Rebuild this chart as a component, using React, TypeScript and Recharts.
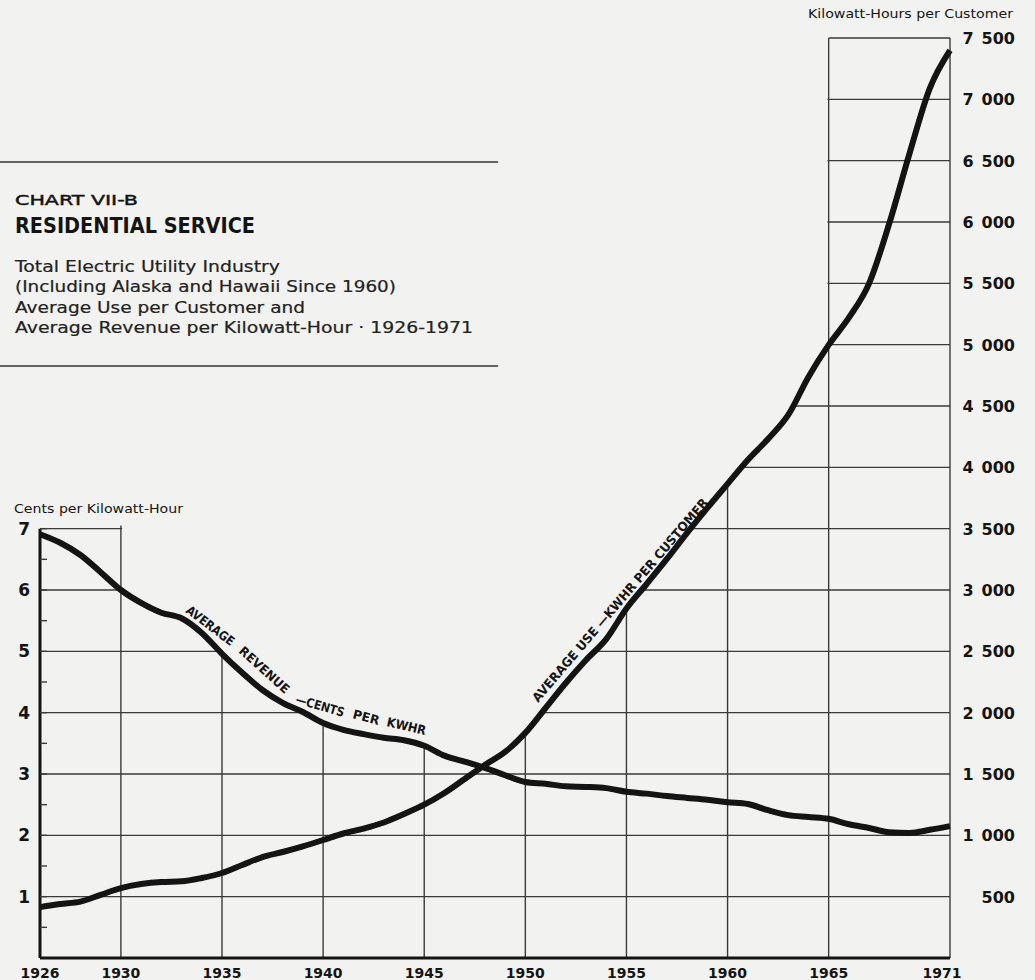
import React from 'react';
import { ComposedChart, Line, Area, XAxis, YAxis, CartesianGrid, ReferenceLine } from 'recharts';

// ---- data ----
const YEARS = [
  1926, 1927, 1928, 1929, 1930, 1931, 1932, 1933, 1934, 1935,
  1936, 1937, 1938, 1939, 1940, 1941, 1942, 1943, 1944, 1945,
  1946, 1947, 1948, 1949, 1950, 1951, 1952, 1953, 1954, 1955,
  1956, 1957, 1958, 1959, 1960, 1961, 1962, 1963, 1964, 1965,
  1966, 1967, 1968, 1969, 1970, 1971,
];

// average revenue, cents per kWh
const REVENUE_CENTS = [
  6.91, 6.77, 6.57, 6.29, 6.0, 5.79, 5.63, 5.54, 5.3, 4.96,
  4.65, 4.37, 4.16, 4.01, 3.83, 3.72, 3.65, 3.59, 3.55, 3.46,
  3.3, 3.2, 3.1, 2.98, 2.87, 2.84, 2.8, 2.79, 2.77, 2.71,
  2.68, 2.64, 2.61, 2.58, 2.54, 2.51, 2.41, 2.33, 2.3, 2.27,
  2.18, 2.12, 2.05, 2.04, 2.09, 2.15,
];

// average use, kWh per customer
const USE_KWH = [
  415, 440, 460, 515, 570, 603, 620, 625, 652, 693,
  758, 823, 864, 910, 962, 1015, 1055, 1105, 1174, 1250,
  1345, 1459, 1574, 1680, 1835, 2038, 2242, 2430, 2600, 2849,
  3049, 3253, 3465, 3669, 3865, 4060, 4231, 4427, 4737, 4998,
  5220, 5500, 5990, 6560, 7090, 7400,
];

const YEAR_TICKS = [1926, 1930, 1935, 1940, 1945, 1950, 1955, 1960, 1965, 1971];
const CENT_TICKS = [0.5, 1, 1.5, 2, 2.5, 3, 3.5, 4, 4.5, 5, 5.5, 6, 6.5, 7];
const KWH_TICKS = [500, 1000, 1500, 2000, 2500, 3000, 3500, 4000, 4500, 5000, 5500, 6000, 6500, 7000, 7500];

const KWH_PER_CENT = 500; // both scales share the grid: 1 cent = 500 kWh

const INK = '#141414';
const GRID = '#3a3a3a';
const PAPER = '#f2f2f0';
const NUM_FONT = '"DejaVu Sans", sans-serif';
const LABEL_FONT = '"DejaVu Sans Condensed", "DejaVu Sans", sans-serif';

// the grid is only drawn under the curves, except in the two framed end boxes,
// so a paper-coloured band covers it above the higher of the two lines
const LEFT_BOX_END = YEAR_TICKS[1];
const RIGHT_BOX_START = YEAR_TICKS[YEAR_TICKS.length - 2];
const CENT_MAX = CENT_TICKS[CENT_TICKS.length - 1];
const KWH_MAX = KWH_TICKS[KWH_TICKS.length - 1];
const envelope = (i: number) => Math.max(REVENUE_CENTS[i] * KWH_PER_CENT, USE_KWH[i]);
const iStart = YEARS.indexOf(LEFT_BOX_END);
const iEnd = YEARS.indexOf(RIGHT_BOX_START);
const leftBoxTop = CENT_MAX * KWH_PER_CENT + 25;
const gap = 0.06;

const rows = YEARS.map((year, i) => ({
  year,
  revenue: REVENUE_CENTS[i],
  use: USE_KWH[i],
  mask: year <= LEFT_BOX_END ? [leftBoxTop, KWH_MAX]
    : year < RIGHT_BOX_START ? [envelope(i), KWH_MAX] : undefined,
}));

const chartData: any[] = [
  ...rows.filter((r) => r.year <= LEFT_BOX_END),
  { year: LEFT_BOX_END + gap, mask: [leftBoxTop, KWH_MAX] },
  { year: LEFT_BOX_END + gap, mask: [envelope(iStart), KWH_MAX] },
  ...rows.filter((r) => r.year > LEFT_BOX_END && r.year < RIGHT_BOX_START),
  { year: RIGHT_BOX_START - gap, mask: [envelope(iEnd), KWH_MAX] },
  { year: RIGHT_BOX_START - gap, mask: [KWH_MAX, KWH_MAX] },
  ...rows.filter((r) => r.year >= RIGHT_BOX_START),
];

const fmtKwh = (v: number) =>
  v >= 1000 ? `${Math.floor(v / 1000)}\u2002${String(v % 1000).padStart(3, '0')}` : String(v);

const YearTick = (p: any) => {
  const last = p.payload.value === YEAR_TICKS[YEAR_TICKS.length - 1];
  return (
    <text x={p.x + (last ? -8 : 0)} y={p.y + 20} textAnchor="middle" fontFamily={NUM_FONT}
      fontWeight="bold" fontSize={14} fill={INK}>
      {p.payload.value}
    </text>
  );
};

const CentTick = (p: any) =>
  Number.isInteger(p.payload.value) ? (
    <text x={p.x} y={p.y + 6} textAnchor="end" fontFamily={NUM_FONT} fontWeight="bold"
      fontSize={17} fill={INK}>
      {p.payload.value}
    </text>
  ) : <g />;

const KwhTick = (p: any) => (
  <text x={p.x + 65} y={p.y + 6} textAnchor="end" fontFamily={NUM_FONT} fontWeight="bold"
    fontSize={16} fill={INK}>
    {fmtKwh(p.payload.value)}
  </text>
);

// curve captions, laid along the lines
const revenueWords = [
  { t: 'AVERAGE', x: 185, y: 612, a: 37, len: 57 },
  { t: 'REVENUE', x: 238, y: 652, a: 42, len: 63 },
  { t: '\u2014CENTS', x: 295, y: 703, a: 16, len: 50 },
  { t: 'PER', x: 352, y: 718, a: 15, len: 27 },
  { t: 'KWHR', x: 386, y: 726, a: 13, len: 40 },
];

const bodyLines = [
  { t: 'Total Electric Utility Industry', y: 272, len: 265 },
  { t: '(Including Alaska and Hawaii Since 1960)', y: 292, len: 381 },
  { t: 'Average Use per Customer and', y: 312.5, len: 290 },
  { t: 'Average Revenue per Kilowatt-Hour \u00B7 1926-1971', y: 332.5, len: 458 },
];

export default function App() {
  return (
    <div style={{ position: 'absolute', left: 0, top: 0, width: 1035, height: 980, background: PAPER, overflow: 'hidden' }}>
      <ComposedChart width={1035} height={980} data={chartData}
        margin={{ top: 38, right: 0, bottom: 0, left: 0 }}>
        <CartesianGrid yAxisId="kwh" stroke={GRID} strokeWidth={1.4}
          horizontalValues={KWH_TICKS.slice(0, -1)} verticalValues={YEAR_TICKS.slice(1)} />
        <XAxis dataKey="year" type="number" domain={[YEARS[0], YEARS[YEARS.length - 1]]}
          ticks={YEAR_TICKS} interval={0} height={22} tickLine={false} tickSize={0} tickMargin={0}
          axisLine={{ stroke: INK, strokeWidth: 3 }} tick={<YearTick />} />
        <YAxis yAxisId="cents" orientation="left" width={40} domain={[0, KWH_MAX / KWH_PER_CENT]}
          ticks={CENT_TICKS} interval={0} axisLine={false} tickSize={-7} tickMargin={17}
          tickLine={{ stroke: GRID, strokeWidth: 1.4 }} tick={<CentTick />} />
        <YAxis yAxisId="kwh" orientation="right" width={85} domain={[0, KWH_MAX]}
          ticks={KWH_TICKS} interval={0} axisLine={false} tickLine={false} tickSize={0}
          tickMargin={0} tick={<KwhTick />} />
        <Area dataKey="mask" yAxisId="kwh" type="linear"
          stroke="none" fill={PAPER} fillOpacity={1} isAnimationActive={false}
          dot={false} activeDot={false} legendType="none" />
        <ReferenceLine yAxisId="cents" segment={[{ x: YEARS[0], y: 0 }, { x: YEARS[0], y: CENT_MAX }]}
          stroke={INK} strokeWidth={3} />
        <ReferenceLine yAxisId="kwh" segment={[{ x: RIGHT_BOX_START, y: KWH_MAX }, { x: YEARS[YEARS.length - 1], y: KWH_MAX }]}
          stroke={GRID} strokeWidth={1.4} />
        <Line dataKey="revenue" yAxisId="cents" type="monotone" stroke={INK} strokeWidth={6}
          connectNulls dot={false} activeDot={false} isAnimationActive={false} />
        <Line dataKey="use" yAxisId="kwh" type="monotone" stroke={INK} strokeWidth={6}
          connectNulls dot={false} activeDot={false} isAnimationActive={false} />
      </ComposedChart>

      <svg width={1035} height={980} style={{ position: 'absolute', left: 0, top: 0, pointerEvents: 'none' }}>
        <line x1={0} x2={498} y1={162} y2={162} stroke="#333" strokeWidth={1.5} />
        <line x1={0} x2={498} y1={366} y2={366} stroke="#333" strokeWidth={1.5} />
        <text x={15} y={205} fontFamily={NUM_FONT} fontSize={14.5} fill={INK} stroke={INK}
          strokeWidth={0.45} textLength={123} lengthAdjust="spacingAndGlyphs">CHART VII-B</text>
        <text x={15} y={233} fontFamily={LABEL_FONT} fontWeight="bold" fontSize={21} fill={INK}
          textLength={240} lengthAdjust="spacingAndGlyphs">RESIDENTIAL SERVICE</text>
        {bodyLines.map((l) => (
          <text key={l.t} x={15} y={l.y} fontFamily={NUM_FONT} fontSize={15.5} fill="#222"
            stroke="#222" strokeWidth={0.2} textLength={l.len} lengthAdjust="spacingAndGlyphs">{l.t}</text>
        ))}
        <text x={14} y={513} fontFamily={NUM_FONT} fontSize={13} fill={INK}
          textLength={169} lengthAdjust="spacingAndGlyphs">Cents per Kilowatt-Hour</text>
        <text x={808} y={18} fontFamily={NUM_FONT} fontSize={13} fill={INK}
          textLength={205} lengthAdjust="spacingAndGlyphs">Kilowatt-Hours per Customer</text>
        {revenueWords.map((w) => (
          <text key={w.t} x={w.x} y={w.y} transform={`rotate(${w.a} ${w.x} ${w.y})`}
            fontFamily={LABEL_FONT} fontWeight="bold" fontSize={12.5} fill={INK}
            textLength={w.len} lengthAdjust="spacingAndGlyphs">{w.t}</text>
        ))}
        <text x={538} y={703} transform="rotate(-49.5 538 703)" fontFamily={LABEL_FONT}
          fontWeight="bold" fontSize={12.5} fill={INK} textLength={263}
          lengthAdjust="spacingAndGlyphs">AVERAGE USE {'\u2014'}KWHR PER CUSTOMER</text>
      </svg>
    </div>
  );
}
